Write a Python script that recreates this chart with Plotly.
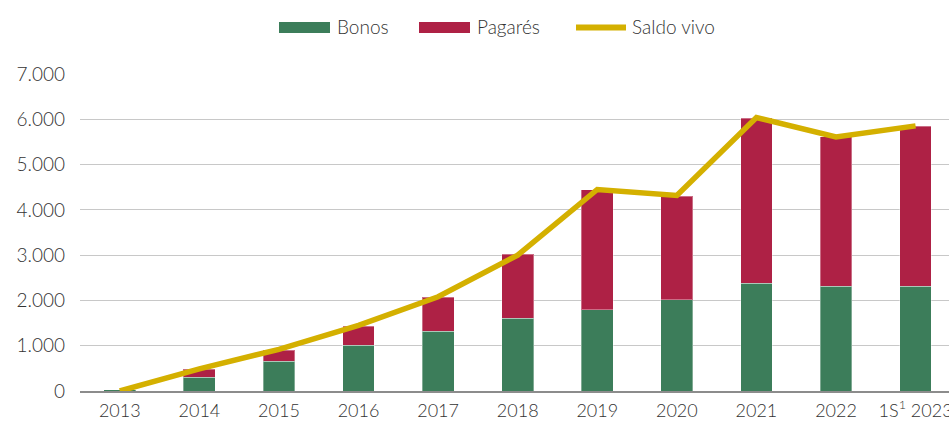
import plotly.graph_objects as go

categories = ["2013", "2014", "2015", "2016", "2017", "2018", "2019", "2020", "2021", "2022", "1S<sup>1</sup> 2023"]
bonos = [25, 300, 660, 1010, 1325, 1610, 1790, 2015, 2380, 2310, 2310]
pagares = [0, 180, 240, 420, 750, 1410, 2650, 2290, 3640, 3300, 3535]
saldo_vivo = [0, 490, 920, 1450, 2080, 3000, 4450, 4320, 6040, 5610, 5855]
legend_names = ["Bonos", "Pagarés", "Saldo vivo"]

GREEN = "#3C7D5A"
RED = "#AE2145"
GOLD = "#D4B000"
FONT = "Lato"
TXT = "#333333"

# plot area in pixels
L, R, T, B = 80, 949, 74, 391
W, H = R - L, B - T
def px(x):
    return (x - L) / W
def py(y):
    return (B - y) / H

fig = go.Figure()
fig.add_trace(go.Bar(x=categories, y=bonos, name="Bonos",
                     marker=dict(color=GREEN, line=dict(color="rgba(255,255,255,0.35)", width=1)),
                     width=0.4, showlegend=False))
fig.add_trace(go.Bar(x=categories, y=pagares, name="Pagarés",
                     marker=dict(color=RED, line=dict(color="rgba(255,255,255,0.35)", width=1)),
                     width=0.4, showlegend=False))
fig.add_trace(go.Scatter(x=categories, y=saldo_vivo, name="Saldo vivo", mode="lines",
                         line=dict(color=GOLD, width=5.5), showlegend=False))

# custom legend (wide swatches like the reference)
shapes = [
    dict(type="rect", xref="paper", yref="paper", x0=px(279), x1=px(330), y0=py(33), y1=py(22),
         fillcolor=GREEN, line=dict(width=0)),
    dict(type="rect", xref="paper", yref="paper", x0=px(419), x1=px(470), y0=py(33), y1=py(22),
         fillcolor=RED, line=dict(width=0)),
    dict(type="line", xref="paper", yref="paper", x0=px(576), x1=px(626), y0=py(27.5), y1=py(27.5),
         line=dict(color=GOLD, width=6)),
]
annotations = []
for name, xpos in zip(legend_names, [335, 475, 630]):
    annotations.append(dict(text=name, xref="paper", yref="paper", x=px(xpos), y=py(26),
                            xanchor="left", yanchor="middle", showarrow=False,
                            font=dict(family=FONT, size=19, color=TXT, weight=300)))

fig.update_layout(
    width=949, height=421,
    barmode="stack",
    showlegend=False,
    plot_bgcolor="white", paper_bgcolor="white",
    margin=dict(l=L, r=0, t=T, b=421 - B, autoexpand=False),
    separators=",.",
    font=dict(family=FONT, size=19, color=TXT, weight=300),
    shapes=shapes,
    annotations=annotations,
    xaxis=dict(type="category", range=[-0.5, 10.42], showgrid=False, showline=True, linecolor="#8c8c8c",
               linewidth=2, ticks="", ticklabelstandoff=2, tickfont=dict(size=18, weight=300), fixedrange=True),
    yaxis=dict(range=[0, 7000], dtick=1000, tickformat=",d", showgrid=True, gridcolor="#c8c8c8", gridwidth=1,
               zeroline=False, showline=False, ticks="", ticklabelstandoff=14, tickfont=dict(size=19, weight=300),
               fixedrange=True),
)

fig.write_html("out.html", config={"displayModeBar": False},
               post_script="document.body.style.margin='0';document.body.style.overflow='hidden';")
